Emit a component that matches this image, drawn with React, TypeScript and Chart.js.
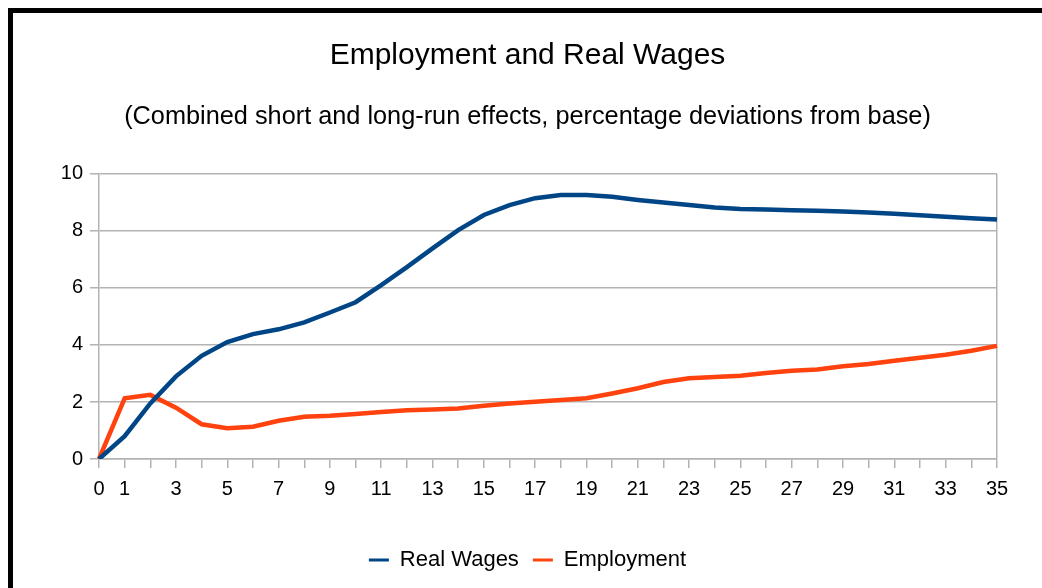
import React, { useEffect, useRef } from "react";
import { Chart, registerables } from "chart.js";

Chart.register(...registerables);

const years = [
  "0", "1", "2", "3", "4", "5", "6", "7", "8", "9", "10", "11", "12", "13", "14", "15", "16", "17",
  "18", "19", "20", "21", "22", "23", "24", "25", "26", "27", "28", "29", "30", "31", "32", "33", "34", "35",
];

const realWages = [
  0, 0.8, 1.95, 2.9, 3.62, 4.1, 4.38, 4.55, 4.79, 5.14, 5.5, 6.1, 6.73, 7.39, 8.03, 8.56, 8.91, 9.15,
  9.26, 9.26, 9.2, 9.09, 9.0, 8.91, 8.82, 8.77, 8.75, 8.73, 8.71, 8.68, 8.65, 8.6, 8.55, 8.5, 8.45, 8.4,
];

const employment = [
  0, 2.13, 2.25, 1.8, 1.22, 1.08, 1.13, 1.34, 1.48, 1.52, 1.58, 1.65, 1.71, 1.74, 1.77, 1.87, 1.95, 2.01,
  2.07, 2.13, 2.3, 2.48, 2.7, 2.83, 2.88, 2.92, 3.02, 3.1, 3.14, 3.25, 3.33, 3.45, 3.55, 3.66, 3.8, 3.97,
];

const seriesNames = ["Real Wages", "Employment"];
const seriesColors = ["#004586", "#ff420e"];
const titleText = "Employment and Real Wages";
const subtitleText = "(Combined short and long-run effects, percentage deviations from base)";

const FONT = "'Liberation Sans', Arial, sans-serif";
const GRID = "#b3b3b3";

export default function App() {
  const ref = useRef<HTMLCanvasElement | null>(null);

  useEffect(() => {
    if (!ref.current) return;
    const chart = new Chart(ref.current, {
      type: "line",
      data: {
        labels: years,
        datasets: [
          {
            label: seriesNames[0],
            data: realWages,
            borderColor: seriesColors[0],
            backgroundColor: seriesColors[0],
            borderWidth: 4.5,
            pointRadius: 0,
            tension: 0,
            fill: false,
            yAxisID: "y",
          },
          {
            label: seriesNames[1],
            data: employment,
            borderColor: seriesColors[1],
            backgroundColor: seriesColors[1],
            borderWidth: 4.5,
            pointRadius: 0,
            tension: 0,
            fill: false,
            yAxisID: "y",
          },
        ],
      },
      options: {
        responsive: false,
        animation: false,
        layout: { padding: { left: 0, right: 0, top: 0, bottom: 7 } },
        plugins: {
          title: {
            display: true,
            text: titleText,
            color: "#000",
            font: { family: FONT, size: 30, weight: "normal", lineHeight: 1.2 },
            padding: { top: 25, bottom: 27.8 },
          },
          subtitle: {
            display: true,
            text: subtitleText,
            color: "#000",
            font: { family: FONT, size: 25.3, weight: "normal", lineHeight: 1.2 },
            padding: { top: 0, bottom: 41.8 },
          },
          legend: {
            position: "bottom",
            labels: {
              boxWidth: 20,
              boxHeight: 3,
              padding: 14,
              color: "#000",
              font: { family: FONT, size: 22 },
              generateLabels: (c: any) =>
                Chart.defaults.plugins.legend.labels
                  .generateLabels(c)
                  .map((l: any) => ({ ...l, lineWidth: 0, fillStyle: l.strokeStyle })),
            },
          },
          tooltip: { enabled: false },
        },
        scales: {
          x: {
            type: "category",
            offset: false,
            grid: {
              color: (ctx: any) => (ctx.index === years.length - 1 ? GRID : "rgba(0,0,0,0)"),
              tickColor: GRID,
              tickLength: 9,
              lineWidth: 1.5,
            },
            border: { display: true, color: GRID, width: 1.5 },
            ticks: {
              autoSkip: false,
              maxRotation: 0,
              padding: 9,
              color: "#000",
              font: { family: FONT, size: 20 },
              callback: (_v: any, i: number) => (i === 0 || i % 2 === 1 ? years[i] : ""),
            },
            afterFit: (s: any) => {
              s.height = 76;
            },
          },
          y: {
            min: 0,
            max: 10,
            grid: { color: GRID, tickColor: GRID, tickLength: 9, lineWidth: 1.5 },
            border: { display: true, color: GRID, width: 1.5 },
            ticks: {
              stepSize: 2,
              padding: 7,
              color: "#000",
              font: { family: FONT, size: 20 },
            },
            afterFit: (s: any) => {
              s.width = 86;
            },
          },
          y2: {
            position: "right",
            display: true,
            grid: { display: false },
            border: { display: false },
            ticks: { display: false },
            afterFit: (s: any) => {
              s.width = 45;
            },
          },
        },
      },
    } as any);
    return () => chart.destroy();
  }, []);

  return (
    <div
      style={{
        position: "fixed",
        left: 8,
        top: 8,
        width: 1034,
        height: 580,
        borderLeft: "5px solid #000",
        borderTop: "5px solid #000",
        boxSizing: "border-box",
        background: "#fff",
        overflow: "hidden",
      }}
    >
      <canvas ref={ref} width={1029} height={575} style={{ display: "block" }} />
    </div>
  );
}
